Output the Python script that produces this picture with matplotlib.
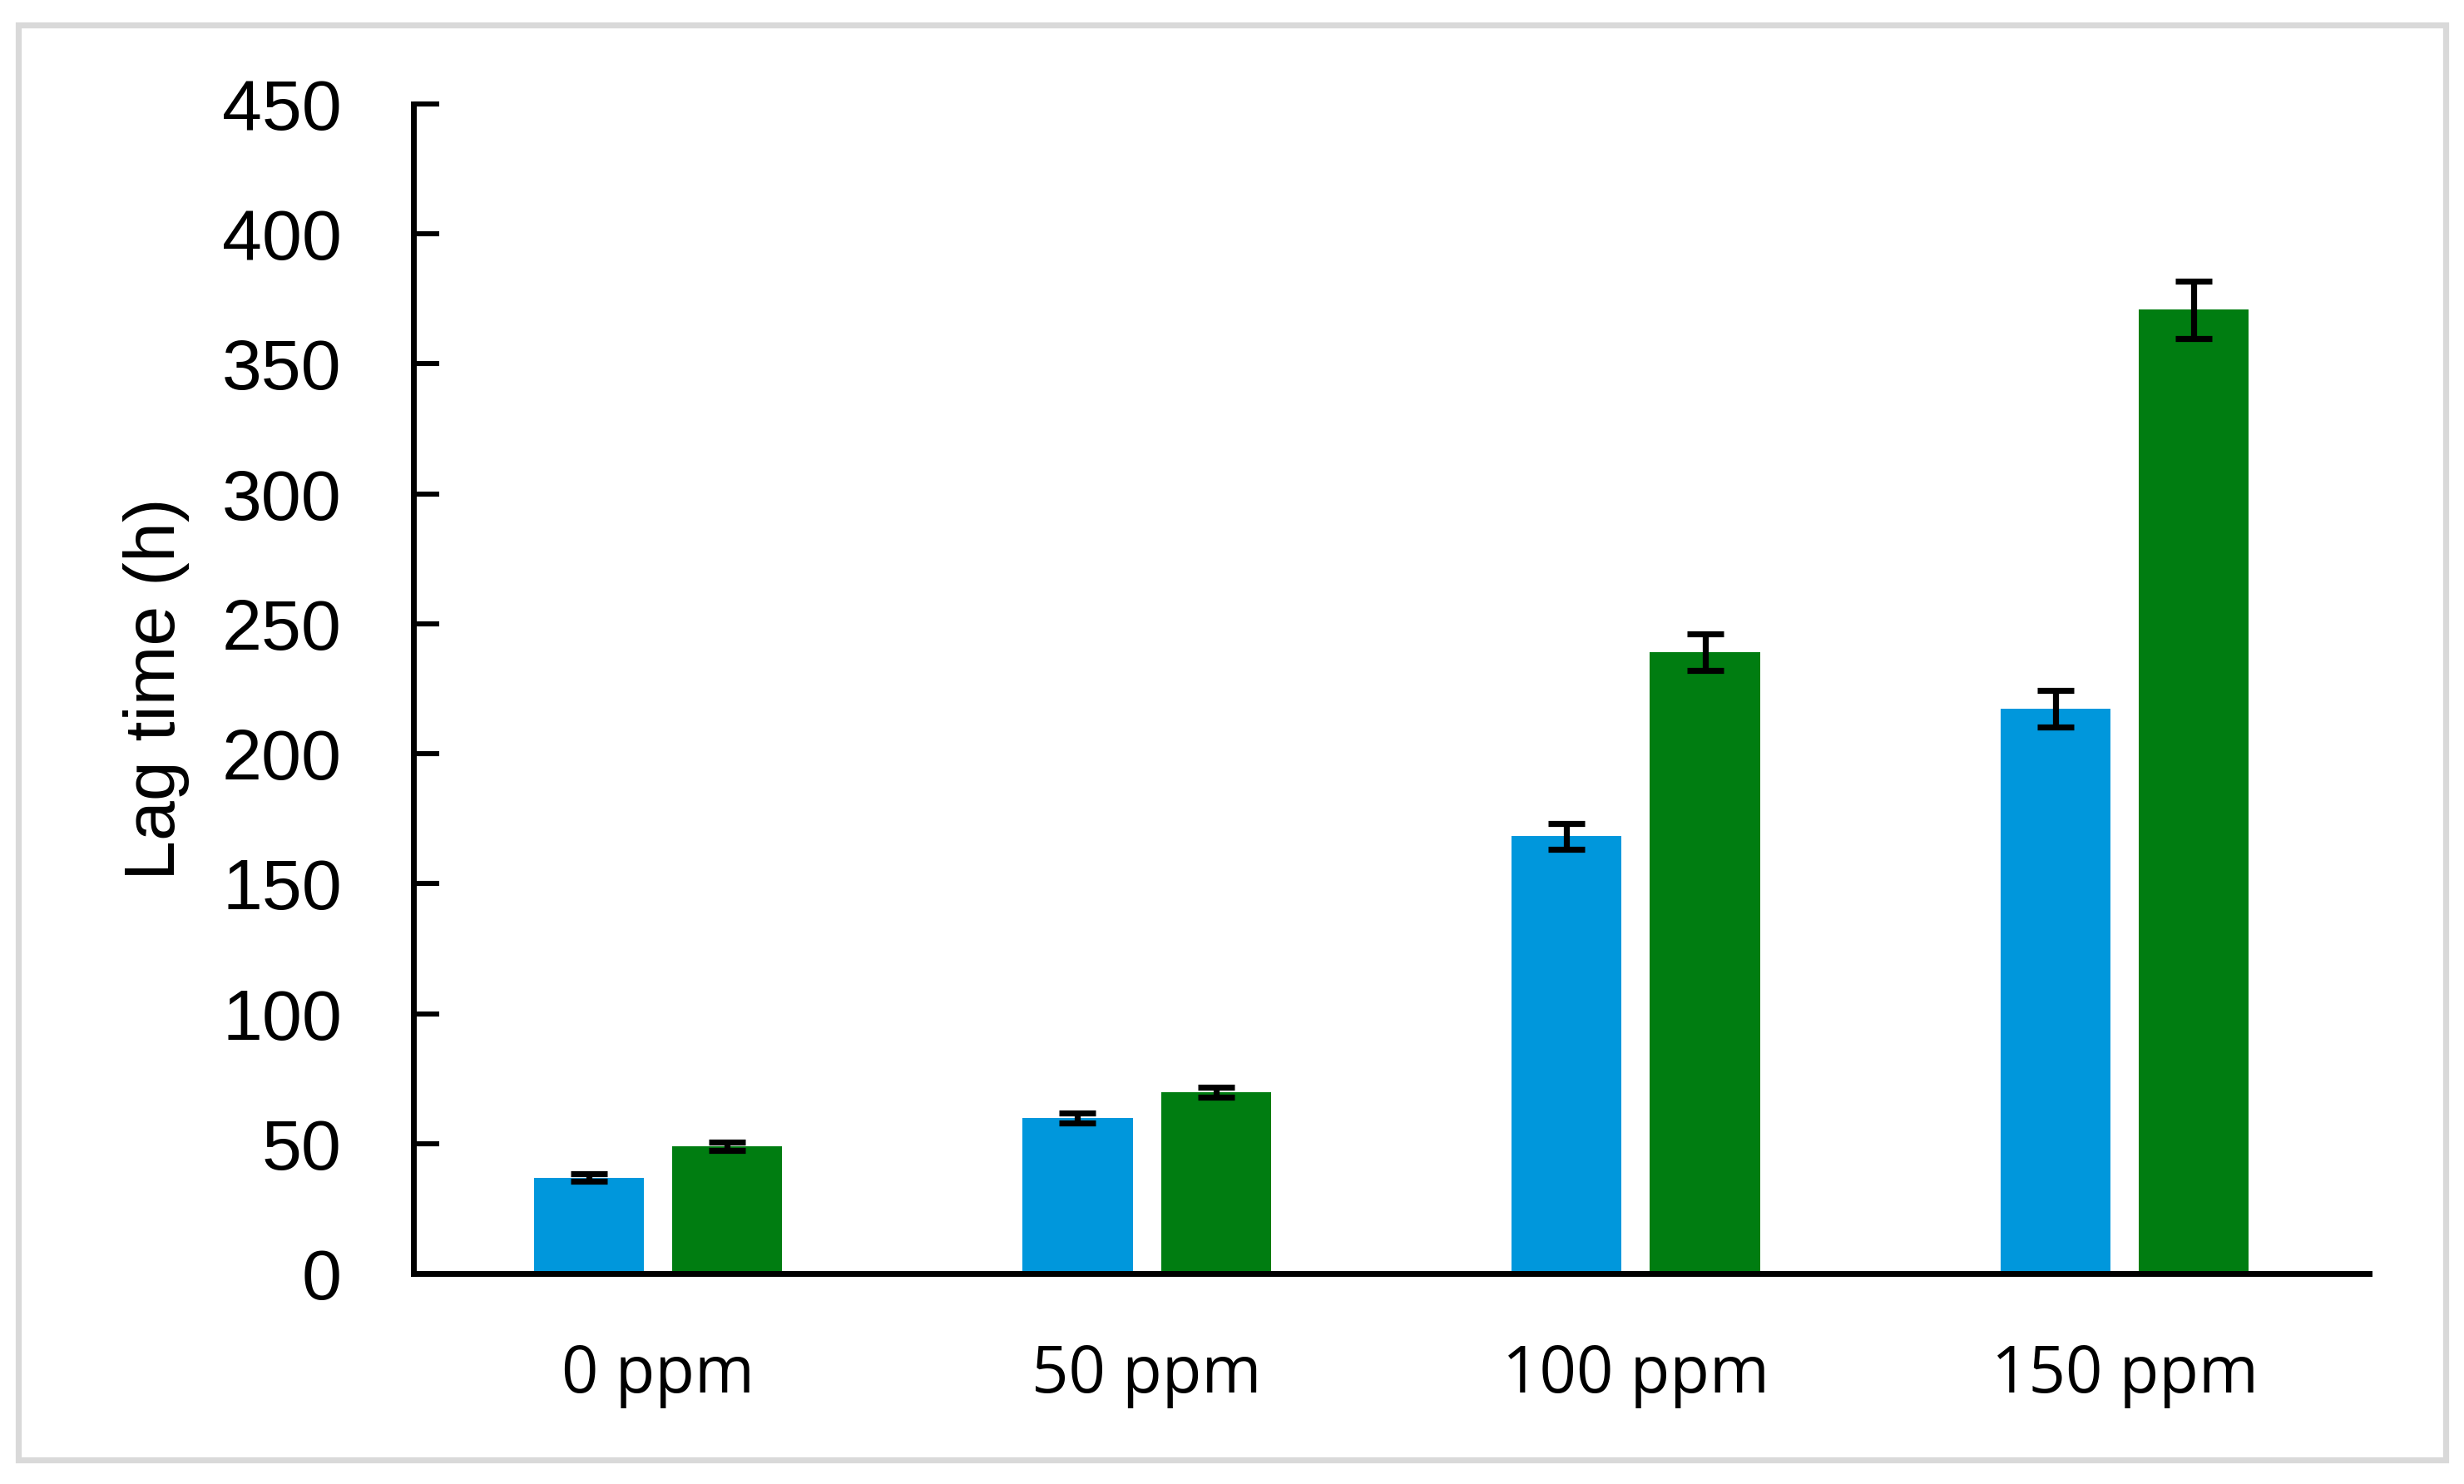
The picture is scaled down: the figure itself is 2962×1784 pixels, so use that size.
import matplotlib
matplotlib.use("Agg")
import matplotlib.pyplot as plt
from matplotlib.patches import Rectangle
import numpy as np

categories = ["0 ppm", "50 ppm", "100 ppm", "150 ppm"]
series_a = [36.9, 59.9, 168.2, 217.2]
series_a_err = [1.5, 2.0, 5.0, 7.0]
series_b = [49.0, 69.7, 239.0, 370.8]
series_b_err = [1.5, 2.0, 7.0, 11.0]
yticks = [0, 50, 100, 150, 200, 250, 300, 350, 400, 450]

DPI = 200
fig = plt.figure(figsize=(2962 / DPI, 1784 / DPI), dpi=DPI)
fig.patch.set_facecolor("white")

# light grey frame around the figure
fig.patches.append(Rectangle((22 / 2962, 1 - 1755 / 1784), 2918 / 2962, 1725 / 1784,
                             transform=fig.transFigure, fill=False,
                             edgecolor="#D9D9D9", linewidth=2.6, zorder=0))

ax = fig.add_axes([497 / 2962, 1 - 1531 / 1784, (2848 - 497) / 2962, (1531 - 125) / 1784])

x = np.arange(len(categories))
off = 0.1415
w = 0.225
ekw = dict(elinewidth=2.6, capthick=2.6, ecolor="black")
ax.bar(x - off, series_a, width=w, color="#0097DC", yerr=series_a_err, capsize=8,
       error_kw=ekw, zorder=2)
ax.bar(x + off, series_b, width=w, color="#007D11", yerr=series_b_err, capsize=8,
       error_kw=ekw, zorder=2)

ax.set_xlim(-0.5, len(categories) - 0.5)
ax.set_ylim(0, 450)
ax.set_yticks(yticks)
ax.set_yticklabels([str(v) for v in yticks], family=["Liberation Sans", "DejaVu Sans"], fontsize=31)
ax.set_xticks(x)
ax.set_xticklabels(categories, family=["Open Sans", "DejaVu Sans"], fontsize=28)

for s in ["top", "right"]:
    ax.spines[s].set_visible(False)
for s in ["left", "bottom"]:
    ax.spines[s].set_linewidth(2.5)
    ax.spines[s].set_color("black")

ax.tick_params(axis="y", direction="in", length=11, width=2.2, pad=31)
ax.tick_params(axis="x", length=0, pad=30)

ax.set_ylabel("Lag time (h)", family=["Liberation Sans", "DejaVu Sans"], fontsize=31, labelpad=14)

fig.savefig("out.png", dpi=DPI, facecolor="white")
